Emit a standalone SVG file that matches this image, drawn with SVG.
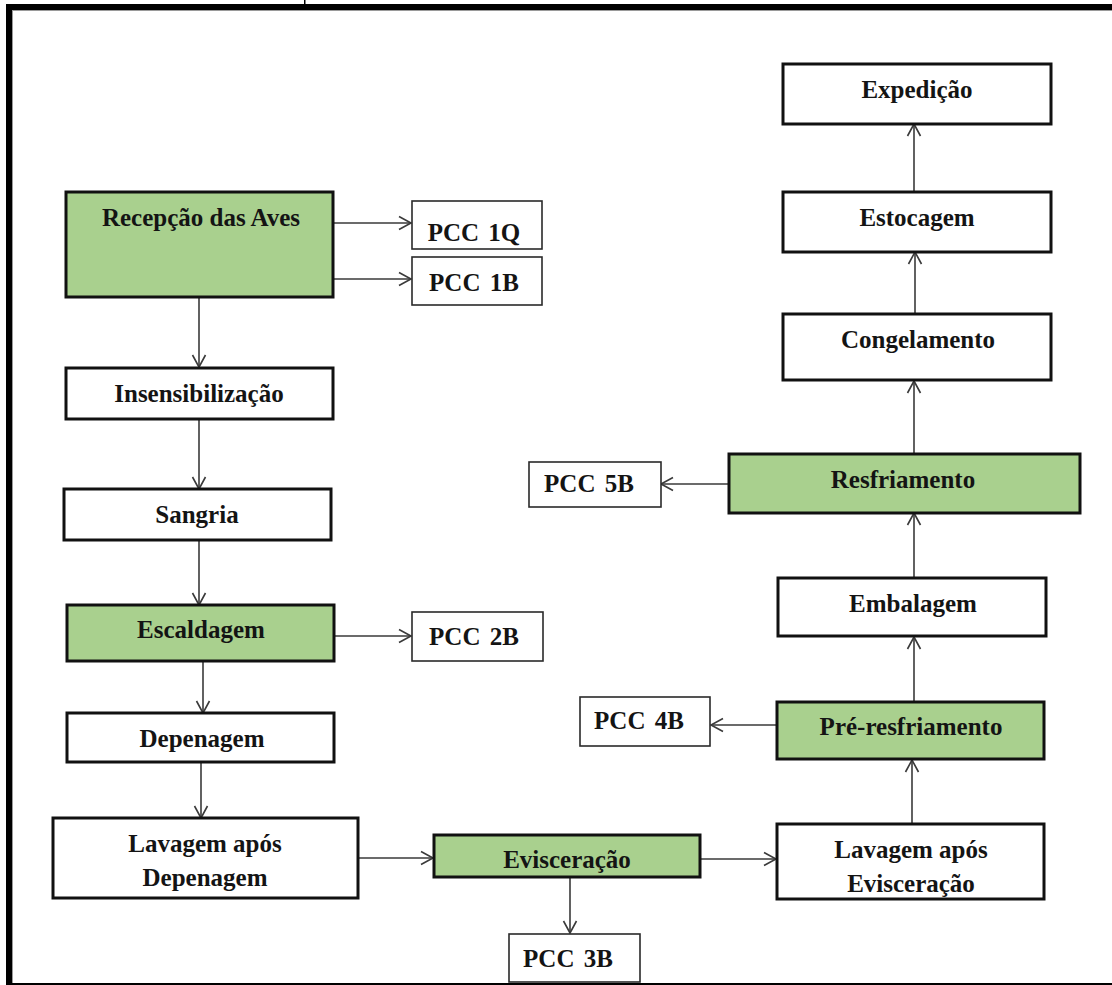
<svg xmlns="http://www.w3.org/2000/svg" width="1112" height="985" viewBox="0 0 1112 985">
<style>
.frame{fill:#000}
.box{fill:#fff;stroke:#111;stroke-width:3}
.green{fill:#a9d08e;stroke:#111;stroke-width:3}
.pcc{fill:#fff;stroke:#2a2a2a;stroke-width:1.6}
.t{font-family:"Liberation Serif","Times New Roman",serif;font-weight:bold;font-size:25px;fill:#141414;text-anchor:middle}
.p{word-spacing:3px}
.c{fill:none;stroke:#3a3a3a;stroke-width:1.6}
</style>
<defs>
<marker id="ah" markerUnits="userSpaceOnUse" markerWidth="16" markerHeight="16" viewBox="-14 -8 16 16" refX="0" refY="0" orient="auto">
<path d="M-12,-6.5 L0,0 L-12,6.5" fill="none" stroke="#3a3a3a" stroke-width="1.6"/>
</marker>
</defs>
<rect width="1112" height="985" fill="#fff"/>
<g id="frame">
<rect class="frame" x="6" y="4" width="1106" height="6"/>
<rect class="frame" x="6" y="4" width="6" height="981"/>
<rect class="frame" x="6" y="983" width="1106" height="2"/>
<rect class="frame" x="304" y="0" width="1.5" height="4"/>
<line x1="12" y1="10.5" x2="1112" y2="10.5" stroke="#9a9a9a" stroke-width="1"/>
<line x1="12.5" y1="10" x2="12.5" y2="983" stroke="#9a9a9a" stroke-width="1"/>
</g>
<g id="connectors">
<line class="c" x1="333" y1="223" x2="411" y2="223" marker-end="url(#ah)"/>
<line class="c" x1="333" y1="279" x2="411" y2="279" marker-end="url(#ah)"/>
<line class="c" x1="199" y1="297" x2="199" y2="367" marker-end="url(#ah)"/>
<line class="c" x1="199" y1="419" x2="199" y2="489" marker-end="url(#ah)"/>
<line class="c" x1="199" y1="540" x2="199" y2="605" marker-end="url(#ah)"/>
<line class="c" x1="334" y1="636" x2="411" y2="636" marker-end="url(#ah)"/>
<line class="c" x1="203" y1="661" x2="203" y2="713" marker-end="url(#ah)"/>
<line class="c" x1="201" y1="762" x2="201" y2="818" marker-end="url(#ah)"/>
<line class="c" x1="358" y1="858" x2="433" y2="858" marker-end="url(#ah)"/>
<line class="c" x1="570" y1="877" x2="570" y2="933" marker-end="url(#ah)"/>
<line class="c" x1="700" y1="859" x2="776" y2="859" marker-end="url(#ah)"/>
<line class="c" x1="912" y1="824" x2="912" y2="760" marker-end="url(#ah)"/>
<line class="c" x1="777" y1="725" x2="711" y2="725" marker-end="url(#ah)"/>
<line class="c" x1="914" y1="701" x2="914" y2="637" marker-end="url(#ah)"/>
<line class="c" x1="914" y1="578" x2="914" y2="513" marker-end="url(#ah)"/>
<line class="c" x1="728" y1="484" x2="661" y2="484" marker-end="url(#ah)"/>
<line class="c" x1="914" y1="454" x2="914" y2="381" marker-end="url(#ah)"/>
<line class="c" x1="915" y1="314" x2="915" y2="252" marker-end="url(#ah)"/>
<line class="c" x1="914" y1="192" x2="914" y2="124" marker-end="url(#ah)"/>
</g>
<g id="recepcao"><rect class="green" x="66" y="192" width="267" height="105"/><text class="t" x="201" y="226">Recepção das Aves</text></g>
<g id="pcc1q"><rect class="pcc" x="412" y="201" width="130" height="48"/><text class="t p" x="474" y="241">PCC 1Q</text></g>
<g id="pcc1b"><rect class="pcc" x="412" y="257" width="130" height="48"/><text class="t p" x="474" y="291">PCC 1B</text></g>
<g id="insensibilizacao"><rect class="box" x="66" y="368" width="267" height="51"/><text class="t" x="199" y="402">Insensibilização</text></g>
<g id="sangria"><rect class="box" x="64" y="489" width="267" height="51"/><text class="t" x="197" y="523">Sangria</text></g>
<g id="escaldagem"><rect class="green" x="67" y="605" width="267" height="56"/><text class="t" x="201" y="638">Escaldagem</text></g>
<g id="pcc2b"><rect class="pcc" x="412" y="612" width="131" height="49"/><text class="t p" x="474" y="645">PCC 2B</text></g>
<g id="depenagem"><rect class="box" x="67" y="713" width="267" height="49"/><text class="t" x="202" y="747">Depenagem</text></g>
<g id="lavagem-depenagem"><rect class="box" x="53" y="818" width="305" height="80"/><text class="t" x="205" y="852">Lavagem após</text><text class="t" x="205" y="886">Depenagem</text></g>
<g id="evisceracao"><rect class="green" x="434" y="835" width="266" height="42"/><text class="t" x="567" y="868">Evisceração</text></g>
<g id="pcc3b"><rect class="pcc" x="509" y="934" width="131" height="48"/><text class="t p" x="568" y="967">PCC 3B</text></g>
<g id="lavagem-evisceracao"><rect class="box" x="777" y="824" width="267" height="75"/><text class="t" x="911" y="858">Lavagem após</text><text class="t" x="911" y="892">Evisceração</text></g>
<g id="pre-resfriamento"><rect class="green" x="777" y="702" width="267" height="57"/><text class="t" x="911" y="735">Pré-resfriamento</text></g>
<g id="pcc4b"><rect class="pcc" x="580" y="697" width="130" height="49"/><text class="t p" x="639" y="729">PCC 4B</text></g>
<g id="embalagem"><rect class="box" x="778" y="578" width="268" height="58"/><text class="t" x="913" y="612">Embalagem</text></g>
<g id="resfriamento"><rect class="green" x="729" y="454" width="351" height="59"/><text class="t" x="903" y="488">Resfriamento</text></g>
<g id="pcc5b"><rect class="pcc" x="529" y="462" width="132" height="45"/><text class="t p" x="589" y="492">PCC 5B</text></g>
<g id="congelamento"><rect class="box" x="783" y="314" width="268" height="66"/><text class="t" x="918" y="348">Congelamento</text></g>
<g id="estocagem"><rect class="box" x="783" y="192" width="268" height="60"/><text class="t" x="917" y="226">Estocagem</text></g>
<g id="expedicao"><rect class="box" x="783" y="64" width="268" height="60"/><text class="t" x="917" y="98">Expedição</text></g>
</svg>
